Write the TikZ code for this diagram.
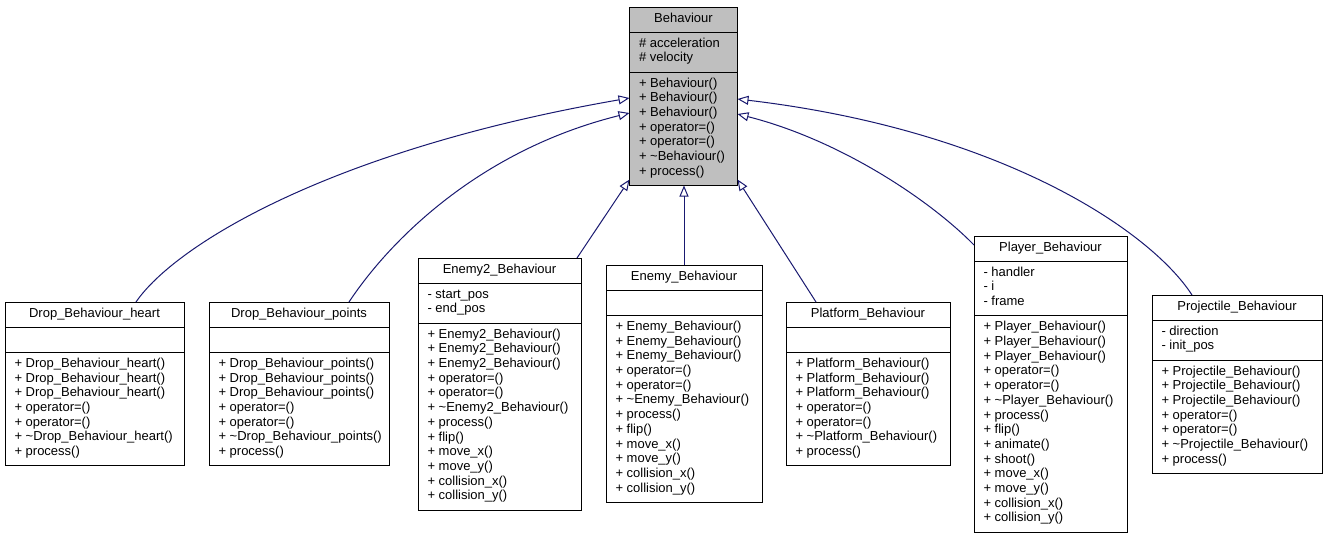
\documentclass[tikz,border=0pt]{standalone}
\usepackage{fontspec}
\setmainfont{Liberation Sans}
\usetikzlibrary{arrows.meta,calc}
\definecolor{edgeblue}{HTML}{191970}
\definecolor{basegrey}{HTML}{BFBFBF}
\newcommand\us{\_}
\newcommand\tl{\textasciitilde}
\tikzset{
  umlrect/.style={draw=black, line width=1pt, inner sep=0pt, outer sep=0pt, rectangle},
  boxline/.style={draw=black, line width=1pt},
  txt/.style={anchor=base west, inner sep=0pt, outer sep=0pt},
  ttl/.style={anchor=base, inner sep=0pt, outer sep=0pt},
  inh/.style={draw=edgeblue, line width=1pt, -{Triangle[open, length=11pt, width=9pt]}},
}
% #1 name, #2 x, #3 y, #4 width, #5 title, #6 n attrs, #7 attrs, #8 n methods, #9 methods
\newcommand\umlbox[9]{%
  \pgfmathsetmacro\hA{max(#6,1)*14.7+10.5}%
  \pgfmathsetmacro\hM{#8*14.7+10.5}%
  \pgfmathsetmacro\hT{25.2+\hA+\hM}%
  \node[umlrect, fill=\boxfill, minimum width=#4, minimum height=\hT, anchor=north west] (#1) at (#2,#3) {};
  \draw[boxline] (#2,#3+25.2) -- ++(#4,0);
  \draw[boxline] (#2,#3+25.2+\hA) -- ++(#4,0);
  \node[ttl] (#1-t) at (#2+#4/2,#3+15.8) {#5};
  \node[txt] (#1-a) at (#2+9.5,#3+25.2+15) {\parbox[t]{#4pt}{#7}};
  \node[txt] (#1-m) at (#2+9.5,#3+25.2+\hA+15) {\parbox[t]{#4pt}{#9}};
}
\begin{document}
\begin{tikzpicture}[x=1pt,y=-1pt,font=\fontsize{13}{14.7}\selectfont]
\useasboundingbox[fill=white] (0,0) rectangle (1325,539);
\def\boxfill{basegrey}
\umlbox{beh}{629.5}{7}{108}{Behaviour}{2}{\# acceleration\\\# velocity}{7}{+ Behaviour()\\+ Behaviour()\\+ Behaviour()\\+ operator=()\\+ operator=()\\+ \tl Behaviour()\\+ process()}
\def\boxfill{white}
\umlbox{heart}{5}{302}{179}{Drop\us Behaviour\us heart}{0}{}{7}{+ Drop\us Behaviour\us heart()\\+ Drop\us Behaviour\us heart()\\+ Drop\us Behaviour\us heart()\\+ operator=()\\+ operator=()\\+ \tl Drop\us Behaviour\us heart()\\+ process()}
\umlbox{points}{209}{302}{180}{Drop\us Behaviour\us points}{0}{}{7}{+ Drop\us Behaviour\us points()\\+ Drop\us Behaviour\us points()\\+ Drop\us Behaviour\us points()\\+ operator=()\\+ operator=()\\+ \tl Drop\us Behaviour\us points()\\+ process()}
\umlbox{enemytwo}{418}{258}{163}{Enemy2\us Behaviour}{2}{- start\us pos\\- end\us pos}{12}{+ Enemy2\us Behaviour()\\+ Enemy2\us Behaviour()\\+ Enemy2\us Behaviour()\\+ operator=()\\+ operator=()\\+ \tl Enemy2\us Behaviour()\\+ process()\\+ flip()\\+ move\us x()\\+ move\us y()\\+ collision\us x()\\+ collision\us y()}
\umlbox{enemy}{606}{265}{156}{Enemy\us Behaviour}{0}{}{12}{+ Enemy\us Behaviour()\\+ Enemy\us Behaviour()\\+ Enemy\us Behaviour()\\+ operator=()\\+ operator=()\\+ \tl Enemy\us Behaviour()\\+ process()\\+ flip()\\+ move\us x()\\+ move\us y()\\+ collision\us x()\\+ collision\us y()}
\umlbox{platform}{786}{302}{164}{Platform\us Behaviour}{0}{}{7}{+ Platform\us Behaviour()\\+ Platform\us Behaviour()\\+ Platform\us Behaviour()\\+ operator=()\\+ operator=()\\+ \tl Platform\us Behaviour()\\+ process()}
\umlbox{player}{974}{236}{153}{Player\us Behaviour}{3}{- handler\\- i\\- frame}{14}{+ Player\us Behaviour()\\+ Player\us Behaviour()\\+ Player\us Behaviour()\\+ operator=()\\+ operator=()\\+ \tl Player\us Behaviour()\\+ process()\\+ flip()\\+ animate()\\+ shoot()\\+ move\us x()\\+ move\us y()\\+ collision\us x()\\+ collision\us y()}
\umlbox{proj}{1152}{295}{170}{Projectile\us Behaviour}{2}{- direction\\- init\us pos}{7}{+ Projectile\us Behaviour()\\+ Projectile\us Behaviour()\\+ Projectile\us Behaviour()\\+ operator=()\\+ operator=()\\+ \tl Projectile\us Behaviour()\\+ process()}
% inheritance connectors
\draw[inh] ($(heart.north west)+(131,0)$) .. controls (175,245) and (330,150) .. ($(beh.north west)+(0,91)$);
\draw[inh] ($(points.north west)+(140,0)$) .. controls (390,240) and (480,150) .. ($(beh.north west)+(0,106)$);
\draw[inh] ($(enemytwo.north east)+(-4,0)$) -- ($(beh.south west)+(0,-6)$);
\draw[inh] (enemy.north) -- (enemy.north |- beh.south);
\draw[inh] ($(platform.north west)+(30,0)$) -- ($(beh.south east)+(0,-6)$);
\draw[inh] ($(player.north west)+(0,9)$) .. controls (930,200) and (840,140) .. ($(beh.north east)+(0,107)$);
\draw[inh] ($(proj.north west)+(40,0)$) .. controls (1150,230) and (1000,130) .. ($(beh.north east)+(0,92)$);
\end{tikzpicture}
\end{document}
